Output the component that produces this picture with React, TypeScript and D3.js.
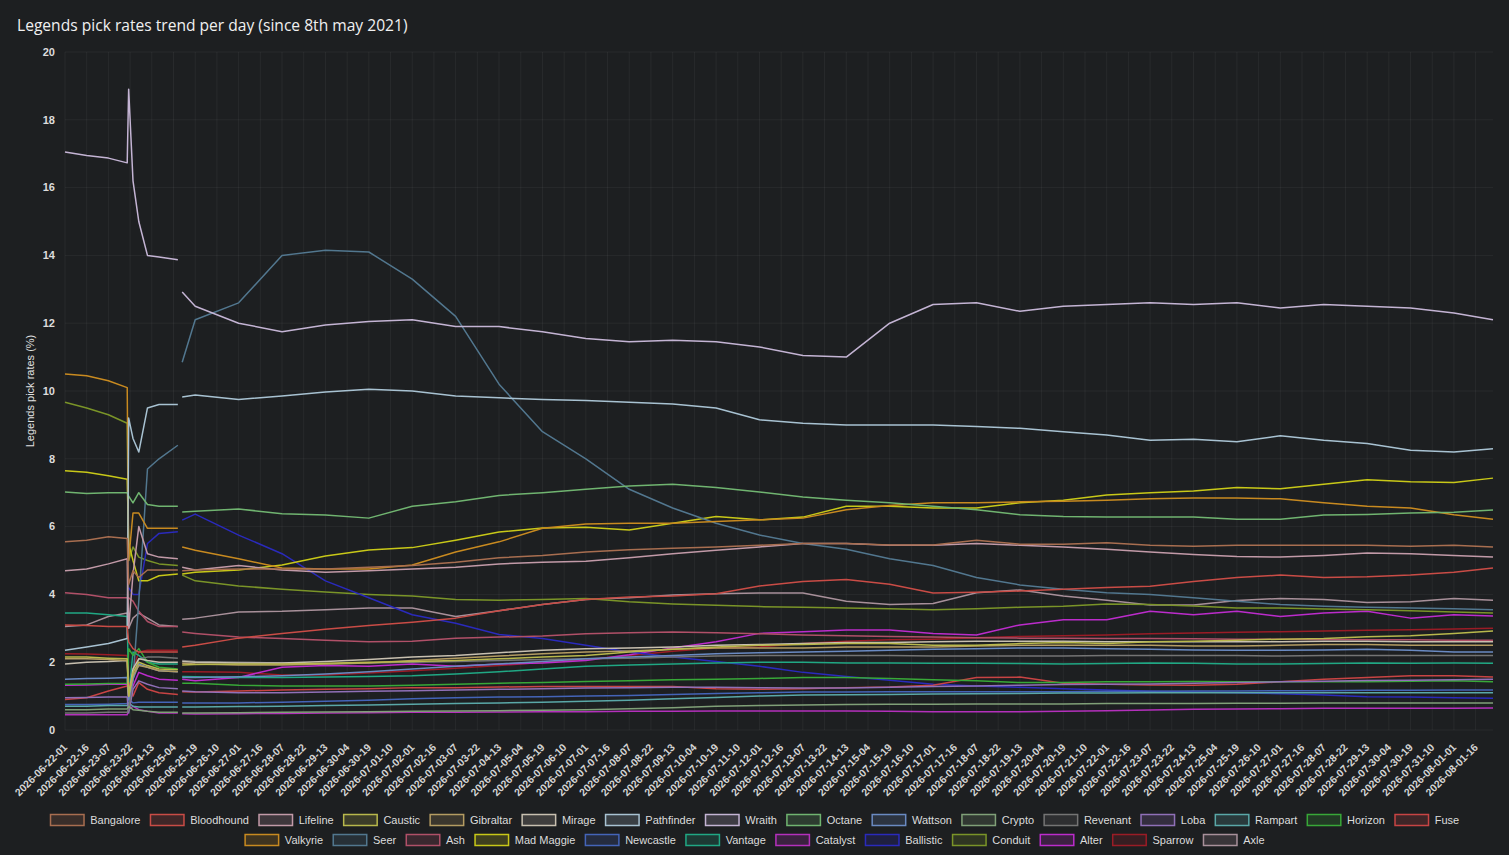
import { useEffect, useRef } from "react"
import * as d3 from "d3"

// hourly categories, one label every 15 hours on the axis
const firstHour = new Date(Date.UTC(2026, 5, 22, 1))
const hourLabels = d3.utcHour
  .range(firstHour, d3.utcHour.offset(firstHour, 988))
  .map(d3.utcFormat("%Y-%m-%d-%H"))
const tickEvery = 15
const yTicks = [0, 2, 4, 6, 8, 10, 12, 14, 16, 18, 20]

const sampleHours = [0, 15, 30, 43, 44, 47, 51, 57, 65, 78, 81, 90, 120, 150, 180, 210, 240, 270, 300, 330, 360, 390, 420, 450, 480, 510, 540, 570, 600, 630, 660, 690, 720, 750, 780, 810, 840, 870, 900, 930, 960, 987]
const gapAfterHour = 78

const bangalore = [5.55, 5.6, 5.7, 5.65, 4.3, 4.7, 4.5, 4.72, 4.72, 4.72, 4.7, 4.72, 4.75, 4.75, 4.75, 4.8, 4.85, 4.95, 5.08, 5.15, 5.25, 5.32, 5.36, 5.4, 5.45, 5.5, 5.5, 5.46, 5.46, 5.6, 5.48, 5.48, 5.52, 5.45, 5.42, 5.45, 5.45, 5.45, 5.45, 5.42, 5.45, 5.4]
const bloodhound = [3.1, 3.08, 3.05, 3.05, 2.6, 2.4, 2.3, 2.3, 2.3, 2.3, 2.45, 2.5, 2.71, 2.85, 2.97, 3.08, 3.18, 3.3, 3.52, 3.7, 3.85, 3.92, 3.95, 4.02, 4.25, 4.38, 4.44, 4.3, 4.04, 4.06, 4.1, 4.15, 4.2, 4.24, 4.38, 4.5, 4.57, 4.5, 4.52, 4.57, 4.65, 4.78]
const lifeline = [4.7, 4.75, 4.9, 5.05, 3.0, 4.6, 6.0, 5.2, 5.1, 5.05, 4.8, 4.72, 4.85, 4.72, 4.65, 4.7, 4.75, 4.8, 4.9, 4.95, 4.98, 5.08, 5.2, 5.3, 5.4, 5.5, 5.5, 5.45, 5.45, 5.5, 5.45, 5.4, 5.33, 5.25, 5.18, 5.12, 5.1, 5.15, 5.22, 5.2, 5.15, 5.1]
const caustic = [2.15, 2.15, 2.12, 2.1, 1.0, 1.7, 2.0, 1.9, 1.8, 1.78, 1.92, 1.93, 1.95, 1.95, 1.97, 2.0, 2.02, 2.05, 2.1, 2.15, 2.2, 2.3, 2.38, 2.45, 2.5, 2.52, 2.55, 2.55, 2.5, 2.5, 2.55, 2.58, 2.55, 2.6, 2.62, 2.65, 2.68, 2.7, 2.75, 2.78, 2.85, 2.92]
const gibraltar = [2.1, 2.1, 2.08, 2.05, 1.0, 1.6, 1.9, 1.85, 1.75, 1.72, 1.97, 1.95, 1.92, 1.92, 1.95, 1.98, 2.05, 2.12, 2.18, 2.25, 2.3, 2.33, 2.38, 2.42, 2.42, 2.42, 2.45, 2.45, 2.45, 2.48, 2.5, 2.5, 2.5, 2.5, 2.48, 2.48, 2.5, 2.52, 2.52, 2.5, 2.5, 2.5]
const mirage = [1.95, 2.0, 2.02, 2.05, 1.0, 1.8, 2.1, 2.05, 2.0, 2.0, 2.02, 2.0, 1.98, 1.98, 2.02, 2.08, 2.15, 2.2, 2.28, 2.35, 2.4, 2.42, 2.45, 2.5, 2.52, 2.55, 2.58, 2.58, 2.6, 2.62, 2.62, 2.62, 2.6, 2.6, 2.6, 2.6, 2.6, 2.62, 2.62, 2.6, 2.6, 2.6]
const pathfinder = [2.35, 2.45, 2.55, 2.7, 9.2, 8.6, 8.2, 9.5, 9.6, 9.6, 9.82, 9.88, 9.75, 9.85, 9.97, 10.05, 10.0, 9.85, 9.8, 9.75, 9.72, 9.67, 9.62, 9.5, 9.15, 9.05, 9.0, 9.0, 9.0, 8.95, 8.9, 8.8, 8.7, 8.55, 8.58, 8.5, 8.68, 8.55, 8.45, 8.25, 8.2, 8.3]
const wraith = [17.05, 16.95, 16.87, 16.73, 18.9, 16.2, 15.0, 14.0, 13.95, 13.87, 12.92, 12.5, 12.0, 11.75, 11.95, 12.05, 12.1, 11.9, 11.9, 11.75, 11.55, 11.45, 11.5, 11.45, 11.3, 11.05, 11.0, 12.0, 12.55, 12.6, 12.35, 12.5, 12.55, 12.6, 12.55, 12.6, 12.45, 12.55, 12.5, 12.45, 12.3, 12.1]
const octane = [7.02, 6.98, 7.0, 7.0, 6.9, 6.7, 7.0, 6.65, 6.6, 6.6, 6.43, 6.45, 6.52, 6.38, 6.34, 6.25, 6.6, 6.73, 6.92, 7.0, 7.1, 7.2, 7.25, 7.15, 7.02, 6.87, 6.78, 6.7, 6.6, 6.5, 6.35, 6.3, 6.28, 6.28, 6.28, 6.22, 6.22, 6.34, 6.36, 6.4, 6.42, 6.49]
const wattson = [1.5, 1.52, 1.53, 1.55, 0.9, 1.5, 1.95, 1.85, 1.75, 1.72, 1.55, 1.55, 1.57, 1.6, 1.65, 1.72, 1.8, 1.88, 1.95, 2.02, 2.1, 2.15, 2.2, 2.25, 2.28, 2.3, 2.32, 2.35, 2.38, 2.4, 2.42, 2.42, 2.4, 2.38, 2.36, 2.35, 2.35, 2.36, 2.38, 2.35, 2.3, 2.3]
const crypto = [0.6, 0.6, 0.62, 0.62, 0.7, 0.6, 0.58, 0.55, 0.52, 0.52, 0.5, 0.5, 0.51, 0.52, 0.53, 0.54, 0.55, 0.56, 0.57, 0.58, 0.6, 0.63, 0.66, 0.7, 0.72, 0.74, 0.75, 0.76, 0.76, 0.77, 0.77, 0.77, 0.78, 0.78, 0.78, 0.79, 0.79, 0.8, 0.8, 0.8, 0.8, 0.8]
const revenant = [0.5, 0.5, 0.52, 0.52, 0.6, 1.5, 2.1, 2.15, 2.15, 2.12, 2.05, 2.02, 2.0, 1.98, 1.95, 1.98, 2.0, 2.02, 2.05, 2.08, 2.1, 2.12, 2.15, 2.18, 2.2, 2.2, 2.2, 2.2, 2.18, 2.18, 2.18, 2.18, 2.2, 2.2, 2.2, 2.2, 2.18, 2.2, 2.2, 2.2, 2.2, 2.2]
const loba = [0.95, 0.96, 0.97, 0.97, 0.5, 1.2, 1.45, 1.35, 1.25, 1.22, 1.15, 1.13, 1.1, 1.1, 1.12, 1.14, 1.16, 1.18, 1.2, 1.22, 1.24, 1.25, 1.26, 1.26, 1.25, 1.24, 1.24, 1.26, 1.28, 1.3, 1.32, 1.34, 1.35, 1.36, 1.38, 1.4, 1.42, 1.44, 1.46, 1.47, 1.48, 1.5]
const rampart = [0.7, 0.7, 0.72, 0.72, 0.8, 0.7, 0.68, 0.68, 0.68, 0.68, 0.68, 0.68, 0.69, 0.7, 0.72, 0.74, 0.76, 0.78, 0.8, 0.82, 0.85, 0.88, 0.92, 0.96, 1.0, 1.03, 1.04, 1.05, 1.06, 1.07, 1.08, 1.09, 1.09, 1.1, 1.1, 1.1, 1.1, 1.1, 1.1, 1.1, 1.1, 1.1]
const horizon = [1.35, 1.36, 1.37, 1.38, 2.4, 2.2, 2.4, 2.0, 1.85, 1.8, 1.38, 1.38, 1.32, 1.3, 1.3, 1.3, 1.32, 1.35, 1.38, 1.4, 1.43, 1.45, 1.48, 1.5, 1.52, 1.55, 1.55, 1.52, 1.48, 1.45, 1.4, 1.4, 1.42, 1.42, 1.43, 1.42, 1.42, 1.42, 1.42, 1.44, 1.45, 1.42]
const fuse = [0.9, 0.95, 1.15, 1.3, 1.4, 1.0, 1.4, 1.2, 1.1, 1.05, 1.13, 1.12, 1.15, 1.18, 1.2, 1.22, 1.25, 1.25, 1.27, 1.28, 1.28, 1.28, 1.28, 1.22, 1.2, 1.22, 1.25, 1.27, 1.32, 1.55, 1.56, 1.38, 1.35, 1.33, 1.32, 1.35, 1.42, 1.5, 1.55, 1.6, 1.6, 1.56]
const valkyrie = [10.5, 10.45, 10.3, 10.1, 5.0, 6.4, 6.4, 5.95, 5.95, 5.95, 5.4, 5.3, 5.05, 4.78, 4.75, 4.75, 4.87, 5.25, 5.55, 5.95, 6.08, 6.1, 6.1, 6.15, 6.2, 6.25, 6.5, 6.62, 6.7, 6.7, 6.73, 6.75, 6.78, 6.82, 6.84, 6.84, 6.82, 6.7, 6.6, 6.55, 6.35, 6.22]
const seer = [null, null, null, null, 0.7, 1.5, 3.8, 7.7, 8.0, 8.4, 10.85, 12.1, 12.6, 14.0, 14.15, 14.1, 13.3, 12.2, 10.2, 8.8, 8.0, 7.1, 6.55, 6.1, 5.75, 5.5, 5.33, 5.05, 4.85, 4.5, 4.28, 4.15, 4.05, 4.0, 3.9, 3.8, 3.7, 3.65, 3.62, 3.6, 3.58, 3.55]
const ash = [4.05, 4.0, 3.9, 3.9, 3.9, 3.8, 3.5, 3.2, 3.05, 3.05, 2.89, 2.85, 2.74, 2.7, 2.65, 2.6, 2.62, 2.71, 2.74, 2.77, 2.84, 2.87, 2.89, 2.87, 2.84, 2.8, 2.78, 2.76, 2.74, 2.72, 2.71, 2.71, 2.7, 2.7, 2.69, 2.68, 2.68, 2.67, 2.66, 2.66, 2.65, 2.65]
const madMaggie = [7.65, 7.6, 7.5, 7.4, 5.5, 5.0, 4.4, 4.4, 4.55, 4.6, 4.6, 4.65, 4.72, 4.87, 5.13, 5.31, 5.38, 5.6, 5.84, 5.96, 5.98, 5.9, 6.1, 6.3, 6.2, 6.28, 6.6, 6.6, 6.55, 6.55, 6.7, 6.78, 6.93, 7.0, 7.05, 7.15, 7.12, 7.25, 7.38, 7.32, 7.3, 7.43]
const newcastle = [0.75, 0.75, 0.76, 0.78, 0.9, 0.8, 0.82, 0.82, 0.82, 0.82, 0.8, 0.8, 0.8, 0.82, 0.85, 0.88, 0.92, 0.95, 0.97, 0.98, 1.0, 1.02, 1.05, 1.08, 1.1, 1.12, 1.12, 1.13, 1.13, 1.13, 1.13, 1.13, 1.14, 1.14, 1.15, 1.15, 1.16, 1.16, 1.17, 1.17, 1.18, 1.18]
const vantage = [3.45, 3.45, 3.4, 3.35, 1.0, 2.3, 2.2, 2.0, 1.95, 1.95, 1.58, 1.57, 1.55, 1.55, 1.56, 1.58, 1.6, 1.65, 1.72, 1.8, 1.88, 1.92, 1.95, 1.98, 2.0, 2.0, 1.98, 1.98, 1.97, 1.97, 1.96, 1.95, 1.96, 1.98, 1.97, 1.95, 1.95, 1.96, 1.98, 1.97, 1.98, 1.97]
const catalyst = [0.45, 0.45, 0.45, 0.45, 0.6, 0.7, 0.6, 0.55, 0.5, 0.5, 0.48, 0.47, 0.48, 0.49, 0.5, 0.51, 0.52, 0.52, 0.53, 0.54, 0.54, 0.55, 0.55, 0.56, 0.56, 0.56, 0.56, 0.55, 0.54, 0.54, 0.54, 0.55, 0.57, 0.59, 0.61, 0.62, 0.63, 0.64, 0.64, 0.64, 0.64, 0.65]
const ballistic = [null, null, null, null, 4.2, 4.0, 4.0, 5.5, 5.8, 5.85, 6.19, 6.37, 5.75, 5.2, 4.4, 3.9, 3.4, 3.15, 2.82, 2.7, 2.5, 2.3, 2.15, 2.02, 1.88, 1.7, 1.58, 1.47, 1.35, 1.3, 1.26, 1.22, 1.18, 1.14, 1.12, 1.1, 1.07, 1.03, 0.98, 0.97, 0.95, 0.94]
const conduit = [9.67, 9.5, 9.3, 9.05, 5.0, 5.4, 5.1, 5.0, 4.9, 4.85, 4.57, 4.4, 4.25, 4.15, 4.07, 4.0, 3.95, 3.85, 3.83, 3.85, 3.88, 3.78, 3.72, 3.68, 3.64, 3.62, 3.6, 3.58, 3.55, 3.58, 3.62, 3.65, 3.72, 3.7, 3.66, 3.6, 3.6, 3.57, 3.55, 3.52, 3.48, 3.45]
const alter = [1.32, 1.33, 1.35, 1.35, 0.9, 1.3, 1.7, 1.6, 1.5, 1.47, 1.5, 1.45, 1.55, 1.85, 1.9, 1.88, 1.95, 1.88, 1.95, 1.98, 2.05, 2.22, 2.42, 2.6, 2.85, 2.9, 2.95, 2.95, 2.85, 2.8, 3.1, 3.25, 3.25, 3.5, 3.4, 3.5, 3.35, 3.45, 3.5, 3.3, 3.4, 3.36]
const sparrow = [2.25, 2.24, 2.22, 2.2, 1.0, 1.8, 2.3, 2.35, 2.35, 2.35, 1.72, 1.72, 1.7, 1.62, 1.62, 1.68, 1.75, 1.82, 1.9, 2.0, 2.08, 2.2, 2.32, 2.42, 2.45, 2.55, 2.62, 2.66, 2.68, 2.72, 2.76, 2.78, 2.8, 2.84, 2.86, 2.88, 2.9, 2.92, 2.94, 2.96, 2.98, 3.0]
const axle = [3.05, 3.1, 3.35, 3.45, 3.0, 3.3, 3.45, 3.3, 3.1, 3.05, 3.27, 3.3, 3.48, 3.5, 3.55, 3.6, 3.6, 3.35, 3.52, 3.7, 3.85, 3.9, 3.98, 4.02, 4.04, 4.04, 3.8, 3.7, 3.73, 4.05, 4.13, 3.95, 3.83, 3.69, 3.69, 3.82, 3.88, 3.85, 3.76, 3.78, 3.88, 3.83]

const legends = [
  { name: "Bangalore", color: "#a86e50", values: bangalore },
  { name: "Bloodhound", color: "#c94c46", values: bloodhound },
  { name: "Lifeline", color: "#c29aa8", values: lifeline },
  { name: "Caustic", color: "#b8b84c", values: caustic },
  { name: "Gibraltar", color: "#b49c62", values: gibraltar },
  { name: "Mirage", color: "#c8c0b0", values: mirage },
  { name: "Pathfinder", color: "#a8c2d2", values: pathfinder },
  { name: "Wraith", color: "#c4b4d4", values: wraith },
  { name: "Octane", color: "#70b470", values: octane },
  { name: "Wattson", color: "#6a8ac2", values: wattson },
  { name: "Crypto", color: "#80a078", values: crypto },
  { name: "Revenant", color: "#747474", values: revenant },
  { name: "Loba", color: "#9070b8", values: loba },
  { name: "Rampart", color: "#5aa8a8", values: rampart },
  { name: "Horizon", color: "#38a838", values: horizon },
  { name: "Fuse", color: "#c84444", values: fuse },
  { name: "Valkyrie", color: "#c88a20", values: valkyrie },
  { name: "Seer", color: "#52778f", values: seer },
  { name: "Ash", color: "#b05068", values: ash },
  { name: "Mad Maggie", color: "#c8c818", values: madMaggie },
  { name: "Newcastle", color: "#4464b8", values: newcastle },
  { name: "Vantage", color: "#20a884", values: vantage },
  { name: "Catalyst", color: "#b430bc", values: catalyst },
  { name: "Ballistic", color: "#2a2abc", values: ballistic },
  { name: "Conduit", color: "#7a9428", values: conduit },
  { name: "Alter", color: "#bc2ccc", values: alter },
  { name: "Sparrow", color: "#9a1c26", values: sparrow },
  { name: "Axle", color: "#a8909a", values: axle },
]
const firstLegendRow = 16

type Pt = { h: number; v: number | null }

export default function App() {
  const ref = useRef<SVGSVGElement | null>(null)

  useEffect(() => {
    const width = 1509
    const height = 855
    const left = 65, right = 1493, top = 52, bottom = 730
    const font = "'Liberation Sans', Arial, sans-serif"

    const svg = d3.select(ref.current)
    svg.selectAll("*").remove()
    svg.attr("width", width).attr("height", height)

    svg.append("rect").attr("width", width).attr("height", height).attr("fill", "#1d1f21")

    const x = d3.scalePoint<string>().domain(hourLabels).range([left, right])
    const y = d3.scaleLinear().domain([0, 20]).range([bottom, top])

    const tickLabels = hourLabels.filter((_, i) => i % tickEvery === 0)

    // grid
    const grid = svg.append("g")
    grid.selectAll("line.v")
      .data(tickLabels)
      .enter()
      .append("line")
      .attr("x1", d => x(d)!)
      .attr("x2", d => x(d)!)
      .attr("y1", top)
      .attr("y2", bottom)
      .attr("stroke", "rgba(255,255,255,0.05)")
    grid.selectAll("line.h")
      .data(yTicks)
      .enter()
      .append("line")
      .attr("x1", left)
      .attr("x2", right)
      .attr("y1", d => y(d))
      .attr("y2", d => y(d))
      .attr("stroke", "rgba(255,255,255,0.05)")

    // y ticks
    svg.append("g").selectAll("text")
      .data(yTicks)
      .enter()
      .append("text")
      .attr("x", 55)
      .attr("y", d => y(d))
      .attr("dy", "0.35em")
      .attr("text-anchor", "end")
      .attr("font-family", font)
      .attr("font-size", 11)
      .attr("font-weight", "bold")
      .attr("fill", "#dcdcdc")
      .text(d => d)

    // x ticks
    svg.append("g").selectAll("text")
      .data(tickLabels)
      .enter()
      .append("text")
      .attr("transform", d => `translate(${x(d)! + 3},${bottom + 18}) rotate(-45)`)
      .attr("text-anchor", "end")
      .attr("font-family", font)
      .attr("font-size", 10.5)
      .attr("font-weight", "bold")
      .attr("fill", "#d4d4d4")
      .text(d => d)

    // axis title
    svg.append("text")
      .attr("transform", `translate(34,${(top + bottom) / 2}) rotate(-90)`)
      .attr("text-anchor", "middle")
      .attr("font-family", font)
      .attr("font-size", 11)
      .attr("fill", "#e0e0e0")
      .text("Legends pick rates (%)")

    svg.append("text")
      .attr("x", 17)
      .attr("y", 31)
      .attr("font-family", "'Open Sans', 'Noto Sans', sans-serif")
      .attr("font-size", 15.6)
      .attr("fill", "#f0f0f0")
      .text("Legends pick rates trend per day (since 8th may 2021)")

    // lines
    const line = d3.line<Pt>()
      .defined(d => d.v != null)
      .x(d => x(hourLabels[d.h])!)
      .y(d => y(d.v as number))

    const toPoints = (values: (number | null)[]) => {
      const pts: Pt[] = []
      sampleHours.forEach((h, i) => {
        pts.push({ h, v: values[i] })
        if (h === gapAfterHour) pts.push({ h, v: null })
      })
      return pts
    }

    svg.append("g").selectAll("path")
      .data(legends.slice().reverse())
      .enter()
      .append("path")
      .attr("d", d => line(toPoints(d.values)))
      .attr("fill", "none")
      .attr("stroke", d => d.color)
      .attr("stroke-width", 1.5)
      .attr("stroke-linejoin", "round")

    // legend
    const boxW = 35, boxH = 11, pad = 9.3
    const rows = [legends.slice(0, firstLegendRow), legends.slice(firstLegendRow)]
    rows.forEach((row, r) => {
      const cy = 820 + r * 20
      const g = svg.append("g")
      let cursor = 0
      row.forEach(item => {
        const it = g.append("g").attr("transform", `translate(${cursor},0)`)
        it.append("rect")
          .attr("x", 0.75)
          .attr("y", cy - boxH / 2)
          .attr("width", boxW - 1.5)
          .attr("height", boxH)
          .attr("fill", d3.color(item.color)!.copy({ opacity: 0.2 }).formatRgb())
          .attr("stroke", item.color)
          .attr("stroke-width", 1.5)
        const t = it.append("text")
          .attr("x", boxW + 5.5)
          .attr("y", cy)
          .attr("dy", "0.35em")
          .attr("font-family", font)
          .attr("font-size", 11)
          .attr("fill", "#dcdcdc")
          .text(item.name)
        const tw = (t.node() as SVGTextElement).getComputedTextLength()
        cursor += boxW + 5.5 + tw + pad
      })
      const total = cursor - pad
      g.attr("transform", `translate(${(width - total) / 2},0)`)
    })
  }, [])

  return (
    <div style={{ position: "absolute", left: 0, top: 0 }}>
      <svg ref={ref} style={{ display: "block" }} />
    </div>
  )
}
